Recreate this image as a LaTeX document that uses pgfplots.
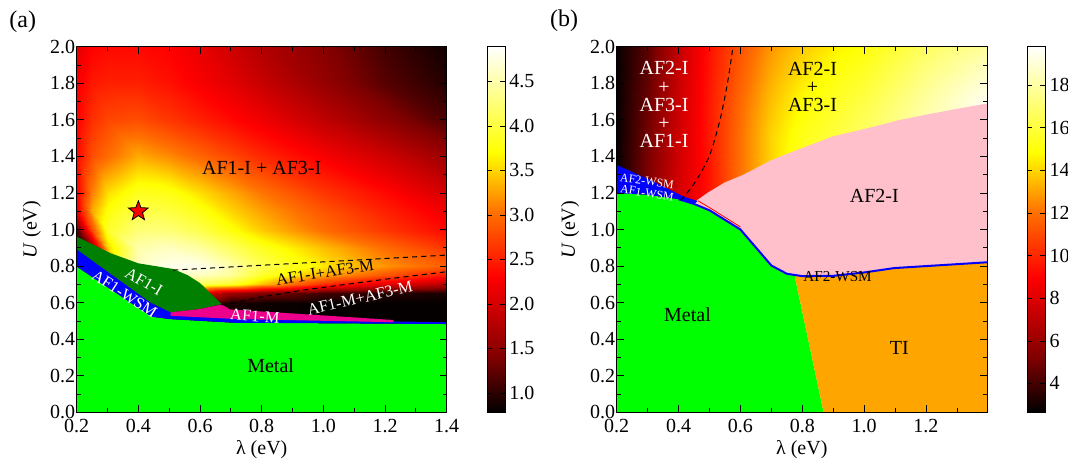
\documentclass[border=0pt]{standalone}
\usepackage{pgfplots}
\pgfplotsset{compat=1.18}
\usepackage{pgfplotstable}
\usepackage{fontspec}
\setmainfont{Liberation Serif}

\definecolor{afgreen}{RGB}{0,128,0}
\definecolor{afpink}{RGB}{255,192,203}
\definecolor{tiorange}{RGB}{255,165,0}

% filled five-point star
\pgfdeclareplotmark{fstar}{%
  \pgfpathmoveto{\pgfpointpolar{90}{\pgfplotmarksize}}%
  \pgfpathlineto{\pgfpointpolar{126}{0.42\pgfplotmarksize}}%
  \pgfpathlineto{\pgfpointpolar{162}{\pgfplotmarksize}}%
  \pgfpathlineto{\pgfpointpolar{198}{0.42\pgfplotmarksize}}%
  \pgfpathlineto{\pgfpointpolar{234}{\pgfplotmarksize}}%
  \pgfpathlineto{\pgfpointpolar{270}{0.42\pgfplotmarksize}}%
  \pgfpathlineto{\pgfpointpolar{306}{\pgfplotmarksize}}%
  \pgfpathlineto{\pgfpointpolar{342}{0.42\pgfplotmarksize}}%
  \pgfpathlineto{\pgfpointpolar{18}{\pgfplotmarksize}}%
  \pgfpathlineto{\pgfpointpolar{54}{0.42\pgfplotmarksize}}%
  \pgfpathclose
  \pgfusepathqfillstroke}

\pgfkeys{/pgf/number format/.cd, fixed, fixed zerofill, precision=1, assume math mode=true}

\tikzset{small label/.style={inner sep=0.3pt, font=\fontsize{8.2}{9}\selectfont}}

\pgfplotsset{
  colormap={hotmap}{rgb255(0)=(0,0,0); rgb255(15)=(128,0,0); rgb255(37)=(255,0,0);
    rgb255(55)=(255,115,0); rgb255(71)=(255,255,0); rgb255(100)=(255,255,255)},
  phase/.style={
    scale only axis, height=182.8pt,
    xmin=0.2, ymin=0, ymax=2,
    ytick={0,0.2,0.4,0.6,0.8,1.0,1.2,1.4,1.6,1.8,2.0},
    minor y tick num=1,
    major tick length=3.5pt, minor tick length=2pt,
    tick style={black, line width=0.4pt},
    axis on top,
    yticklabel style={inner xsep=0.6pt},
    xlabel={λ (eV)}, ylabel={\textit{U} (eV)},
    x label style={at={(axis description cs:0.5,-0.103)}, anchor=center},
    colorbar,
  },
}

\pgfplotstableread{
x y c
0.2 0.45 0.8
0.25 0.45 0.8
0.3 0.45 0.8
0.4 0.45 0.8
0.5 0.45 0.8
0.6 0.45 0.8
0.7 0.45 0.8
0.8 0.45 0.8
1.0 0.45 0.8
1.2 0.45 0.8
1.4 0.45 0.8
0.2 0.6 0.8
0.25 0.6 0.8
0.3 0.6 0.8
0.4 0.6 1.2
0.5 0.6 1.4
0.6 0.6 1.2
0.7 0.6 0.9
0.8 0.6 0.85
1.0 0.6 0.8
1.2 0.6 0.8
1.4 0.6 0.8
0.2 0.65 0.8
0.25 0.65 0.8
0.3 0.65 1.0
0.4 0.65 2.0
0.5 0.65 2.5
0.6 0.65 2.2
0.7 0.65 1.6
0.8 0.65 1.4
1.0 0.65 1.1
1.2 0.65 0.95
1.4 0.65 0.9
0.2 0.7 0.8
0.25 0.7 0.8
0.3 0.7 1.5
0.4 0.7 3.2
0.5 0.7 4.0
0.6 0.7 4.1
0.7 0.7 3.9
0.8 0.7 3.4
1.0 0.7 2.6
1.2 0.7 2.1
1.4 0.7 1.8
0.2 0.75 0.8
0.25 0.75 0.8
0.3 0.75 2.2
0.4 0.75 4.2
0.5 0.75 4.6
0.6 0.75 4.6
0.7 0.75 4.4
0.8 0.75 3.9
1.0 0.75 3.3
1.2 0.75 2.85
1.4 0.75 2.45
0.2 0.8 0.8
0.25 0.8 0.8
0.3 0.8 3.0
0.4 0.8 4.6
0.5 0.8 4.8
0.6 0.8 4.8
0.7 0.8 4.5
0.8 0.8 4.1
1.0 0.8 3.6
1.2 0.8 3.2
1.4 0.8 2.9
0.2 0.9 0.8
0.25 0.9 1.5
0.3 0.9 3.5
0.4 0.9 4.5
0.5 0.9 4.6
0.6 0.9 4.45
0.7 0.9 4.15
0.8 0.9 3.85
1.0 0.9 3.4
1.2 0.9 3.0
1.4 0.9 2.65
0.2 1.0 1.2
0.25 1.0 2.8
0.3 1.0 3.9
0.4 1.0 4.25
0.5 1.0 4.25
0.6 1.0 4.05
0.7 1.0 3.75
0.8 1.0 3.45
1.0 1.0 3.0
1.2 1.0 2.65
1.4 1.0 2.35
0.2 1.1 2.2
0.25 1.1 3.3
0.3 1.1 3.75
0.4 1.1 4.05
0.5 1.1 4.0
0.6 1.1 3.8
0.7 1.1 3.5
0.8 1.1 3.25
1.0 1.1 2.85
1.2 1.1 2.5
1.4 1.1 2.2
0.2 1.2 2.3
0.25 1.2 3.1
0.3 1.2 3.55
0.4 1.2 3.85
0.5 1.2 3.8
0.6 1.2 3.55
0.7 1.2 3.3
0.8 1.2 3.05
1.0 1.2 2.65
1.2 1.2 2.35
1.4 1.2 2.0
0.2 1.4 2.35
0.25 1.4 2.8
0.3 1.4 3.0
0.4 1.4 3.3
0.5 1.4 3.15
0.6 1.4 2.95
0.7 1.4 2.75
0.8 1.4 2.55
1.0 1.4 2.25
1.2 1.4 1.95
1.4 1.4 1.6
0.2 1.6 2.3
0.25 1.6 2.6
0.3 1.6 2.75
0.4 1.6 2.8
0.5 1.6 2.65
0.6 1.6 2.5
0.7 1.6 2.35
0.8 1.6 2.2
1.0 1.6 1.85
1.2 1.6 1.5
1.4 1.6 1.15
0.2 1.8 2.25
0.25 1.8 2.45
0.3 1.8 2.5
0.4 1.8 2.5
0.5 1.8 2.4
0.6 1.8 2.25
0.7 1.8 2.1
0.8 1.8 1.9
1.0 1.8 1.55
1.2 1.8 1.2
1.4 1.8 0.95
0.2 2.0 2.1
0.25 2.0 2.3
0.3 2.0 2.35
0.4 2.0 2.35
0.5 2.0 2.3
0.6 2.0 2.15
0.7 2.0 1.95
0.8 2.0 1.75
1.0 2.0 1.45
1.2 2.0 1.1
1.4 2.0 0.85
}\heatA

\pgfplotstableread{
x y c
0.2 1.1 2.8
0.3 1.1 5.2
0.4 1.1 7.7
0.5 1.1 9.5
0.6 1.1 12.0
0.7 1.1 14.0
0.8 1.1 15.5
0.9 1.1 16.5
1.0 1.1 17.2
1.2 1.1 18.8
1.4 1.1 19.8
0.2 1.3 2.8
0.3 1.3 5.2
0.4 1.3 7.7
0.5 1.3 9.5
0.6 1.3 12.0
0.7 1.3 14.0
0.8 1.3 15.5
0.9 1.3 16.5
1.0 1.3 17.2
1.2 1.3 18.8
1.4 1.3 19.8
0.2 1.5 2.8
0.3 1.5 5.0
0.4 1.5 7.6
0.5 1.5 9.6
0.6 1.5 12.0
0.7 1.5 14.0
0.8 1.5 15.3
0.9 1.5 16.0
1.0 1.5 16.8
1.2 1.5 18.5
1.4 1.5 19.8
0.2 1.7 2.8
0.3 1.7 4.8
0.4 1.7 7.5
0.5 1.7 9.6
0.6 1.7 11.8
0.7 1.7 13.6
0.8 1.7 14.8
0.9 1.7 15.5
1.0 1.7 16.2
1.2 1.7 18.0
1.4 1.7 19.6
0.2 1.85 2.8
0.3 1.85 4.6
0.4 1.85 7.4
0.5 1.85 9.5
0.6 1.85 11.5
0.7 1.85 13.2
0.8 1.85 14.3
0.9 1.85 15.0
1.0 1.85 15.6
1.2 1.85 17.4
1.4 1.85 18.8
0.2 2.0 2.8
0.3 2.0 4.5
0.4 2.0 7.3
0.5 2.0 9.4
0.6 2.0 11.2
0.7 2.0 12.8
0.8 2.0 13.8
0.9 2.0 14.5
1.0 2.0 15.0
1.2 2.0 16.7
1.4 2.0 17.9
}\heatB

\begin{document}
\begin{tikzpicture}
\useasboundingbox (-38.35pt,-25.35pt) rectangle (495.65pt,206.15pt);

% ---------------- panel (a)
\begin{axis}[phase, name=pa, at={(0,0)}, anchor=south west,
  width=185pt, xmax=1.4,
  xtick={0.2,0.4,0.6,0.8,1.0,1.2,1.4}, minor x tick num=1,
  y label style={at={(axis description cs:-0.1216,0.5)}, anchor=center},
  point meta min=0.78, point meta max=4.89,
  colorbar style={at={(parent axis.north east)}, anchor=north west,
    xshift=11.65pt, width=9pt,
    ytick={1.0,1.5,2.0,2.5,3.0,3.5,4.0,4.5},
    major tick length=2.5pt, tick style={black},
    yticklabel style={inner xsep=2pt}},
]
\addplot[surf, shader=interp, mesh/cols=11, point meta=explicit, forget plot]
  table[x=x, y=y, meta=c] {\heatA};
% Metal
\addplot[fill=green, draw=none] coordinates {
 (0.2,0) (0.2,0.797) (0.443,0.523) (0.5,0.51) (0.708,0.49) (1.4,0.483) (1.4,0)} -- cycle;
% AF1-WSM
\addplot[fill=blue, draw=none] coordinates {
 (0.2,0.797) (0.2,0.892) (0.44,0.6) (0.505,0.547) (0.72,0.515) (1.227,0.497)
 (1.4,0.493) (1.4,0.483) (0.708,0.49) (0.5,0.51) (0.443,0.523)} -- cycle;
% AF1-I
\addplot[fill=afgreen, draw=none] coordinates {
 (0.2,0.892) (0.2,0.961) (0.309,0.871) (0.4,0.815) (0.513,0.784) (0.56,0.75)
 (0.6,0.707) (0.67,0.592) (0.6,0.565) (0.505,0.547) (0.44,0.6)} -- cycle;
% AF1-M
\addplot[fill=magenta, draw=none] coordinates {
 (0.505,0.547) (0.6,0.565) (0.67,0.59) (0.697,0.563) (1.227,0.505)
 (1.227,0.493) (0.72,0.51) (0.505,0.528)} -- cycle;
% boundaries
\addplot[black, dash pattern=on 2.6pt off 2pt, line width=0.5pt] coordinates {
 (0.513,0.778) (0.935,0.817) (1.4,0.86)};
\addplot[black, dash pattern=on 2.6pt off 2pt, line width=0.5pt] coordinates {
 (0.67,0.587) (0.8,0.631) (0.935,0.669) (1.2,0.728) (1.4,0.769)};
% star
\addplot[only marks, mark=fstar, mark size=5.2pt,
  mark options={fill=red, draw=black, line width=0.4pt}] coordinates {(0.4,1.1)};
\node at (axis cs:0.8,1.335) {AF1-I + AF3-I};
\node[small label, text=white, rotate=-30] at (axis cs:0.418,0.716) {AF1-I};
\node[small label, text=white, rotate=-33] at (axis cs:0.355,0.648) {AF1-WSM};
\node[small label, text=white, rotate=-4] at (axis cs:0.778,0.527) {AF1-M};
\node[small label, rotate=9] at (axis cs:1.005,0.766) {AF1-I+AF3-M};
\node[small label, text=white, rotate=13] at (axis cs:1.119,0.624) {AF1-M+AF3-M};
\node at (axis cs:0.829,0.253) {Metal};
\end{axis}

% ---------------- panel (b)
\begin{axis}[phase, name=pb, at={(270pt,0)}, anchor=south west,
  width=185.1pt, xmax=1.397,
  xtick={0.2,0.4,0.6,0.8,1.0,1.2}, minor xtick={0.3,0.5,0.7,0.9,1.1,1.3},
  y label style={at={(axis description cs:-0.126,0.5)}, anchor=center},
  point meta min=2.64, point meta max=19.8,
  colorbar style={at={(parent axis.north east)}, anchor=north west,
    xshift=11.65pt, width=9pt,
    ytick={4,6,8,10,12,14,16,18},
    major tick length=2.5pt, tick style={black},
    yticklabel style={inner xsep=2pt, /pgf/number format/precision=0}},
]
\addplot[surf, shader=interp, mesh/cols=11, point meta=explicit, forget plot]
  table[x=x, y=y, meta=c] {\heatB};
% Metal
\addplot[fill=green, draw=none] coordinates {
 (0.2,0) (0.2,1.2) (0.3,1.19) (0.4,1.166) (0.45,1.14) (0.5,1.105) (0.6,1.0)
 (0.7,0.803) (0.75,0.758) (0.775,0.75) (0.869,0)} -- cycle;
% TI
\addplot[fill=tiorange, draw=none] coordinates {
 (0.775,0.75) (0.869,0) (1.4,0) (1.4,0.821) (1.097,0.789) (1.0,0.765)
 (0.903,0.747) (0.8,0.745)} -- cycle;
% AF2-I
\addplot[fill=afpink, draw=none] coordinates {
 (0.458,1.158) (0.493,1.2) (0.55,1.258) (0.61,1.3) (0.7,1.38) (0.783,1.435)
 (0.9,1.51) (1.011,1.554) (1.117,1.6) (1.2,1.628) (1.3,1.66) (1.4,1.69)
 (1.4,0.821) (1.097,0.789) (1.0,0.765) (0.903,0.747) (0.8,0.745) (0.775,0.75)
 (0.75,0.758) (0.7,0.803) (0.6,1.0) (0.5,1.105) (0.45,1.14)} -- cycle;
% WSM strip
\addplot[fill=blue, draw=none] coordinates {
 (0.2,1.2) (0.2,1.353) (0.308,1.271) (0.416,1.18) (0.462,1.156)
 (0.45,1.14) (0.4,1.166) (0.3,1.19)} -- cycle;
\addplot[red, line width=0.4pt] coordinates {
 (0.462,1.158) (0.5,1.12) (0.6,1.014)};
\addplot[blue, line width=1pt] coordinates {
 (0.4,1.166) (0.45,1.14) (0.5,1.105) (0.6,1.0) (0.7,0.803) (0.75,0.758)
 (0.8,0.745) (0.903,0.747) (1.0,0.765) (1.097,0.789) (1.4,0.821)};
\addplot[black, smooth, dash pattern=on 2.6pt off 2pt, line width=0.5pt] coordinates {
 (0.407,1.16) (0.45,1.25) (0.499,1.40) (0.534,1.60) (0.558,1.80) (0.576,2.0)};
\node[text=white, align=center, font=\fontsize{10}{9.1}\selectfont] at (axis cs:0.353,1.683)
  {AF2-I\\+\\AF3-I\\+\\AF1-I};
\node[align=center, font=\fontsize{10}{9.1}\selectfont] at (axis cs:0.833,1.78)
  {AF2-I\\+\\AF3-I};
\node at (axis cs:1.033,1.184) {AF2-I};
\node[text=white, rotate=-8, inner sep=0pt, font=\fontsize{6}{7}\selectfont] at (axis cs:0.298,1.264) {AF2-WSM};
\node[text=white, rotate=-10, inner sep=0pt, font=\fontsize{6}{7}\selectfont] at (axis cs:0.298,1.198) {AF1-WSM};
\node[font=\fontsize{7.6}{9}\selectfont] at (axis cs:0.914,0.745) {AF2-WSM};
\node at (axis cs:0.429,0.533) {Metal};
\node at (axis cs:1.114,0.35) {TI};
\end{axis}

\node[font=\fontsize{12}{14}\selectfont] at (-27pt,195.3pt) {(a)};
\node[font=\fontsize{12}{14}\selectfont] at (243.65pt,195.8pt) {(b)};
\end{tikzpicture}
\end{document}
